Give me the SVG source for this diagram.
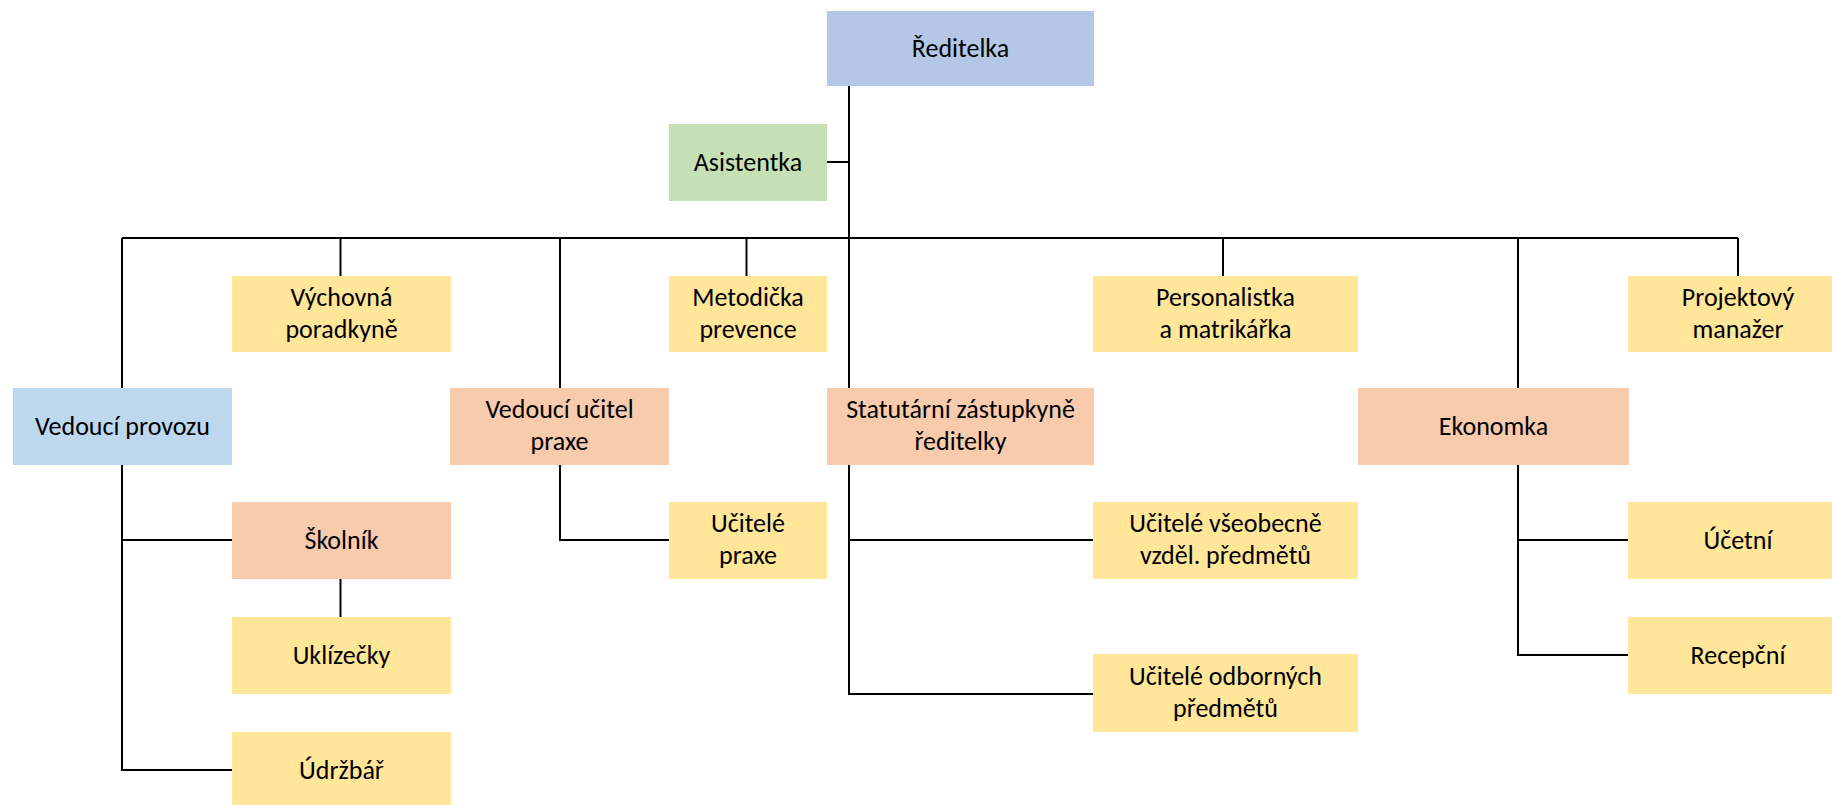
<svg xmlns="http://www.w3.org/2000/svg" width="1832" height="805" viewBox="0 0 1832 805">
<style>
.n text{font-family:Carlito,"Liberation Sans Narrow",Lato,sans-serif;font-size:26px;fill:#000;text-anchor:middle}
.blue{fill:#B4C7E7}.green{fill:#C5E0B4}.yel{fill:#FFE699}.peach{fill:#F8CBAD}.lblue{fill:#BDD7EE}
.c path{fill:none;stroke:#000;stroke-width:2}
</style>
<rect width="1832" height="805" fill="#fff"/>
<g class="c" id="connectors">
<path d="M849 86V388"/>
<path d="M827 162H849"/>
<path d="M122 238H1738"/>
<path d="M122 238V388"/>
<path d="M340.5 238V276"/>
<path d="M560 238V388"/>
<path d="M746.5 238V276"/>
<path d="M1223 238V276"/>
<path d="M1518 238V388"/>
<path d="M1738 238V276"/>
<path d="M122 465V770H232"/>
<path d="M122 540H232"/>
<path d="M340.5 579V617"/>
<path d="M560 465V540H669"/>
<path d="M849 465V694H1093"/>
<path d="M849 540H1093"/>
<path d="M1518 465V655H1628"/>
<path d="M1518 540H1628"/>
</g>
<g class="n" id="reditelka"><rect class="blue" x="827" y="11" width="267" height="75"/><text x="960.5" y="57">Ředitelka</text></g>
<g class="n" id="asistentka"><rect class="green" x="669" y="124" width="158" height="77"/><text x="748" y="171">Asistentka</text></g>
<g class="n" id="vychovna"><rect class="yel" x="232" y="276" width="219" height="76"/><text x="341.5" y="306">Výchovná</text><text x="341.5" y="338">poradkyně</text></g>
<g class="n" id="metodicka"><rect class="yel" x="669" y="276" width="158" height="76"/><text x="748" y="306">Metodička</text><text x="748" y="338">prevence</text></g>
<g class="n" id="personalistka"><rect class="yel" x="1093" y="276" width="265" height="76"/><text x="1225.5" y="306">Personalistka</text><text x="1225.5" y="338">a matrikářka</text></g>
<g class="n" id="projektovy"><rect class="yel" x="1628" y="276" width="220" height="76"/><text x="1738" y="306">Projektový</text><text x="1738" y="338">manažer</text></g>
<g class="n" id="vedouci-provozu"><rect class="lblue" x="13" y="388" width="219" height="77"/><text x="122.5" y="435">Vedoucí provozu</text></g>
<g class="n" id="vedouci-ucitel"><rect class="peach" x="450" y="388" width="219" height="77"/><text x="559.5" y="418">Vedoucí učitel</text><text x="559.5" y="450">praxe</text></g>
<g class="n" id="statutarni"><rect class="peach" x="827" y="388" width="267" height="77"/><text x="960.5" y="418">Statutární zástupkyně</text><text x="960.5" y="450">ředitelky</text></g>
<g class="n" id="ekonomka"><rect class="peach" x="1358" y="388" width="271" height="77"/><text x="1493.5" y="435">Ekonomka</text></g>
<g class="n" id="skolnik"><rect class="peach" x="232" y="502" width="219" height="77"/><text x="341.5" y="549">Školník</text></g>
<g class="n" id="ucitele-praxe"><rect class="yel" x="669" y="502" width="158" height="77"/><text x="748" y="532">Učitelé</text><text x="748" y="564">praxe</text></g>
<g class="n" id="ucitele-vseobecne"><rect class="yel" x="1093" y="502" width="265" height="77"/><text x="1225.5" y="532">Učitelé všeobecně</text><text x="1225.5" y="564">vzděl. předmětů</text></g>
<g class="n" id="ucetni"><rect class="yel" x="1628" y="502" width="220" height="77"/><text x="1738" y="549">Účetní</text></g>
<g class="n" id="uklizecky"><rect class="yel" x="232" y="617" width="219" height="77"/><text x="341.5" y="664">Uklízečky</text></g>
<g class="n" id="recepcni"><rect class="yel" x="1628" y="617" width="220" height="77"/><text x="1738" y="664">Recepční</text></g>
<g class="n" id="ucitele-odbornych"><rect class="yel" x="1093" y="654" width="265" height="78"/><text x="1225.5" y="685">Učitelé odborných</text><text x="1225.5" y="717">předmětů</text></g>
<g class="n" id="udrzbar"><rect class="yel" x="232" y="732" width="219" height="77"/><text x="341.5" y="779">Údržbář</text></g>
</svg>
